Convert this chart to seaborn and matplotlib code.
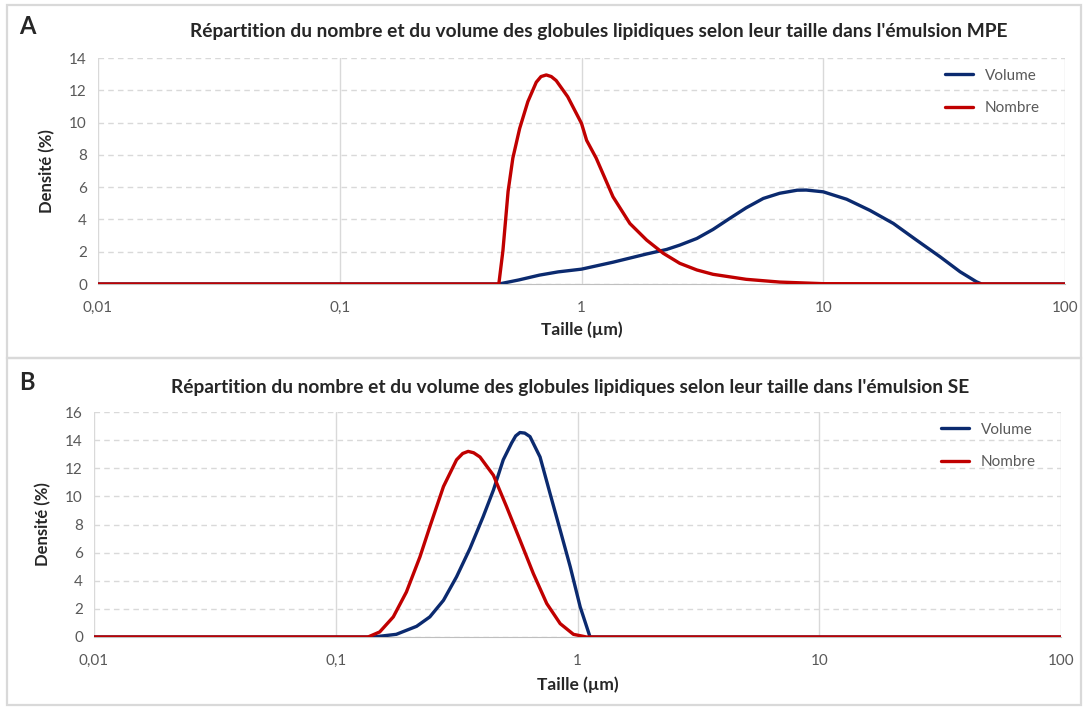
import numpy as np
import pandas as pd
import seaborn as sns
import matplotlib.pyplot as plt
from matplotlib.patches import Rectangle
from matplotlib.ticker import LogLocator, NullFormatter

# Panel A (émulsion MPE)
mpe_vol_x = [0.01, 0.1, 0.455, 0.55, 0.67, 0.8, 1.0, 1.35, 1.86, 2.25, 2.55, 3.0, 3.5, 4.1,
             4.8, 5.65, 6.6, 7.8, 8.5, 10.0, 12.5, 15.6, 19.5, 24.3, 30.4, 36.8, 43.0, 45.2, 100]
mpe_vol_y = [0, 0, 0, 0.25, 0.55, 0.75, 0.92, 1.35, 1.86, 2.14, 2.41, 2.82, 3.38, 4.06,
             4.72, 5.3, 5.62, 5.81, 5.82, 5.71, 5.25, 4.56, 3.75, 2.72, 1.69, 0.76, 0.14, 0, 0]
mpe_num_x = [0.01, 0.1, 0.455, 0.473, 0.497, 0.52, 0.555, 0.6, 0.65, 0.68, 0.715, 0.75, 0.786, 0.877,
             1.0, 1.05, 1.15, 1.35, 1.585, 1.86, 2.18, 2.55, 3.0, 3.5, 4.8, 6.6, 10.0, 100]
mpe_num_y = [0, 0, 0, 2.05, 5.74, 7.8, 9.64, 11.3, 12.5, 12.85, 12.95, 12.85, 12.6, 11.6,
             9.95, 8.9, 7.8, 5.4, 3.75, 2.72, 1.9, 1.28, 0.87, 0.6, 0.29, 0.12, 0.02, 0]

# Panel B (émulsion SE)
se_vol_x = [0.01, 0.1, 0.143, 0.178, 0.216, 0.245, 0.279, 0.316, 0.359, 0.407, 0.449, 0.493,
            0.534, 0.555, 0.578, 0.605, 0.636, 0.7, 0.77, 0.848, 0.933, 1.026, 1.127, 100]
se_vol_y = [0, 0, 0, 0.19, 0.76, 1.43, 2.61, 4.28, 6.29, 8.55, 10.45, 12.6,
            13.8, 14.3, 14.54, 14.5, 14.25, 12.8, 10.2, 7.6, 5.0, 2.14, 0, 0]
se_num_x = [0.01, 0.1, 0.136, 0.152, 0.173, 0.196, 0.223, 0.245, 0.279, 0.316, 0.335, 0.353, 0.372, 0.395,
            0.449, 0.509, 0.578, 0.657, 0.746, 0.848, 0.962, 1.09, 100]
se_num_y = [0, 0, 0, 0.36, 1.43, 3.2, 5.7, 7.84, 10.7, 12.6, 13.05, 13.2, 13.1, 12.8,
            11.5, 9.26, 6.9, 4.5, 2.38, 0.95, 0.19, 0, 0]

series_names = ["Volume", "Nombre"]
titles = ["Répartition du nombre et du volume des globules lipidiques selon leur taille dans l'émulsion MPE",
          "Répartition du nombre et du volume des globules lipidiques selon leur taille dans l'émulsion SE"]
panel_letters = ["A", "B"]
x_ticks = [0.01, 0.1, 1, 10, 100]
x_tick_labels = ["0,01", "0,1", "1", "10", "100"]
y_max = [14, 16]

sns.set_style("white")
plt.rcParams['font.family'] = ['Lato', 'DejaVu Sans']

W, H = 1083, 709
fig = plt.figure(figsize=(W / 100, H / 100), dpi=100)

# panel frames
for (y0, y1) in [(5, 358), (358, 705)]:
    fig.patches.append(Rectangle((7 / W, 1 - y1 / H), 1074 / W, (y1 - y0) / H,
                                 transform=fig.transFigure, fill=False,
                                 edgecolor="#d9d9d9", lw=1.6))

axes_px = [(98, 1065, 58, 284), (94, 1061, 412, 637)]
palette = {"Volume": "#0b2a6f", "Nombre": "#c00000"}
tick_col = "#595959"
data = [((mpe_vol_x, mpe_vol_y), (mpe_num_x, mpe_num_y)),
        ((se_vol_x, se_vol_y), (se_num_x, se_num_y))]
title_cx = [599, 570]
title_y = [32, 387]
letter_y = [27, 382]
xlabel_y = [330, 685]
legend_anchor = [(0.985, 1.0), (0.985, 1.0)]

for i, (l, r, t, b) in enumerate(axes_px):
    ax = fig.add_axes([l / W, 1 - b / H, (r - l) / W, (b - t) / H])
    frames = []
    for name, (xs, ys) in zip(series_names, data[i]):
        frames.append(pd.DataFrame({"Taille": xs, "Densite": ys, "Serie": name}))
    df = pd.concat(frames, ignore_index=True)
    sns.lineplot(data=df, x="Taille", y="Densite", hue="Serie", palette=palette,
                 estimator=None, sort=False, lw=2.4, ax=ax, zorder=3,
                 solid_joinstyle="round", solid_capstyle="round")
    ax.set_xscale("log")
    ax.set_xlim(0.01, 100)
    ax.set_ylim(0, y_max[i])
    ax.set_xticks(x_ticks)
    ax.set_xticklabels(x_tick_labels)
    ax.xaxis.set_minor_locator(LogLocator(base=10, subs=np.arange(2, 10)))
    ax.xaxis.set_minor_formatter(NullFormatter())
    ax.set_yticks(np.arange(0, y_max[i] + 1, 2))
    ax.tick_params(axis="x", which="major", length=6, color="#bfbfbf", labelsize=11,
                   labelcolor=tick_col, pad=6)
    ax.tick_params(axis="x", which="minor", length=4, color="#bfbfbf")
    ax.tick_params(axis="y", length=0, labelsize=11, labelcolor=tick_col, pad=8)
    ax.grid(axis="y", which="major", color="#d9d9d9", ls=(0, (4, 3)), lw=1)
    ax.grid(axis="x", which="major", color="#d9d9d9", ls="-", lw=1)
    ax.set_axisbelow(True)
    for s in ["top", "right", "left"]:
        ax.spines[s].set_visible(False)
    ax.spines["bottom"].set_color("#bfbfbf")
    ax.set_xlabel("")
    ax.set_ylabel("Densité (%)", fontsize=12, fontweight="bold", labelpad=10)
    ax.legend(title=None, loc="upper right", frameon=False, fontsize=11,
              handlelength=1.8, labelspacing=1.2, borderaxespad=0.3,
              bbox_to_anchor=legend_anchor[i], labelcolor=tick_col)
    fig.text((l + r) / 2 / W, 1 - xlabel_y[i] / H, "Taille (µm)", ha="center", va="center",
             fontsize=12.5, fontweight="bold")
    fig.text(title_cx[i] / W, 1 - title_y[i] / H, titles[i], ha="center", va="center",
             fontsize=13.8, fontweight="bold")
    fig.text(19 / W, 1 - letter_y[i] / H, panel_letters[i], ha="left", va="center",
             fontsize=17, fontweight="bold")

fig.savefig("out.png", dpi=100)
